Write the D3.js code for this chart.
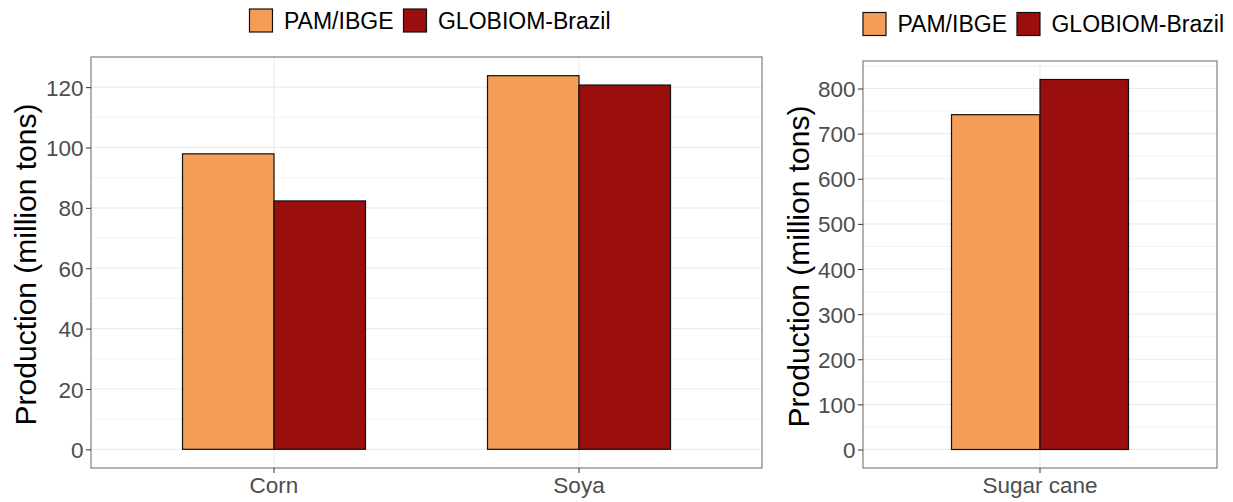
<!DOCTYPE html>
<html><head><meta charset="utf-8">
<script src="https://cdn.jsdelivr.net/npm/d3@7"></script>
<style>body{margin:0;background:#fff}svg{display:block;font-family:"Liberation Sans",Arial,sans-serif}</style>
</head><body>
<svg id="c" width="1233" height="502"></svg>
<script>
const series = ["PAM/IBGE", "GLOBIOM-Brazil"];
const colors = ["#F39D56", "#9B0E0E"];
const categoriesLeft = ["Corn", "Soya"];
const pamLeft = [97.9, 123.8];
const globiomLeft = [82.3, 120.7];
const ticksLeft = [0, 20, 40, 60, 80, 100, 120];
const categoriesRight = ["Sugar cane"];
const pamRight = [742];
const globiomRight = [820];
const ticksRight = [0, 100, 200, 300, 400, 500, 600, 700, 800];
const yTitle = "Production (million tons)";

const svg = d3.select("#c");

function panel(cfg) {
  const {x0, x1, y0, y1, cats, vals, ticks, legendY, titleX} = cfg;
  const maxV = d3.max(vals.flat());
  const y = d3.scaleLinear().domain([-0.05 * maxV, maxV * 1.05]).range([y1, y0]);
  const x = d3.scaleBand().domain(cats).range([x0, x1]).paddingInner(0.4).paddingOuter(0.3);
  const xs = d3.scaleBand().domain(series).range([0, x.bandwidth()]);
  const g = svg.append("g");
  // minor gridlines
  const step = ticks[1] - ticks[0];
  const minor = [];
  for (let i = 0; i <= ticks.length; i++) {
    const v = ticks[0] + step * (i - 0.5);
    if (v > y.domain()[0] && v < y.domain()[1]) minor.push(v);
  }
  g.selectAll(".mn").data(minor).join("line")
    .attr("x1", x0).attr("x2", x1).attr("y1", d => y(d)).attr("y2", d => y(d))
    .attr("stroke", "#EBEBEB").attr("stroke-width", 0.6);
  g.selectAll(".mj").data(ticks).join("line")
    .attr("x1", x0).attr("x2", x1).attr("y1", d => y(d)).attr("y2", d => y(d))
    .attr("stroke", "#EBEBEB").attr("stroke-width", 1.1);
  g.selectAll(".vx").data(cats).join("line")
    .attr("x1", d => x(d) + x.bandwidth() / 2).attr("x2", d => x(d) + x.bandwidth() / 2)
    .attr("y1", y0).attr("y2", y1)
    .attr("stroke", "#EBEBEB").attr("stroke-width", 1.1);
  // bars
  cats.forEach((c, ci) => {
    series.forEach((s, si) => {
      g.append("rect")
        .attr("x", x(c) + xs(s)).attr("width", xs.bandwidth())
        .attr("y", y(vals[si][ci])).attr("height", y(0) - y(vals[si][ci]))
        .attr("fill", colors[si]).attr("stroke", "#111").attr("stroke-width", 1.2);
    });
  });
  // border
  g.append("rect").attr("x", x0).attr("y", y0).attr("width", x1 - x0).attr("height", y1 - y0)
    .attr("fill", "none").attr("stroke", "#666").attr("stroke-width", 1);
  // axes
  const ya = d3.axisLeft(y).tickValues(ticks).tickSize(5).tickPadding(2.5);
  const yg = g.append("g").attr("transform", `translate(${x0},0)`).call(ya);
  yg.select(".domain").remove();
  yg.selectAll("line").attr("stroke", "#333");
  yg.selectAll("text").attr("fill", "#4D4D4D").style("font-size", "22.5px").attr("dy", "0.36em");
  const xa = d3.axisBottom(x).tickSize(5).tickPadding(4);
  const xg = g.append("g").attr("transform", `translate(0,${y1})`).call(xa);
  xg.select(".domain").remove();
  xg.selectAll("line").attr("stroke", "#333");
  xg.selectAll("text").attr("fill", "#4D4D4D").style("font-size", "22.5px");
  // y title
  g.append("text").attr("transform", `translate(${titleX},${(y0 + y1) / 2 + 2}) rotate(-90)`)
    .attr("text-anchor", "middle").style("font-size", "30px").attr("fill", "#000")
    .text(yTitle);
  // legend
  const lg = g.append("g");
  let cx = 0;
  series.forEach((s, i) => {
    const it = lg.append("g").attr("transform", `translate(${cx},0)`);
    it.append("rect").attr("x", 0).attr("y", 0).attr("width", 23).attr("height", 23)
      .attr("fill", colors[i]).attr("stroke", "#111").attr("stroke-width", 1.2);
    const t = it.append("text").attr("x", 34.5).attr("y", 11.5).attr("dy", "0.36em")
      .style("font-size", "23px").attr("fill", "#000").text(s);
    cx += 34.5 + t.node().getComputedTextLength() + 10;
  });
  const lw = cx - 10;
  lg.attr("transform", `translate(${(x0 + x1) / 2 - lw / 2 + 3.5},${legendY})`);
}

panel({x0: 91, x1: 762, y0: 57, y1: 468, cats: categoriesLeft, vals: [pamLeft, globiomLeft],
  ticks: ticksLeft, legendY: 9, titleX: 35.5});
panel({x0: 863, x1: 1217, y0: 61, y1: 468, cats: categoriesRight, vals: [pamRight, globiomRight],
  ticks: ticksRight, legendY: 12.5, titleX: 808.5});
</script>
</body></html>
